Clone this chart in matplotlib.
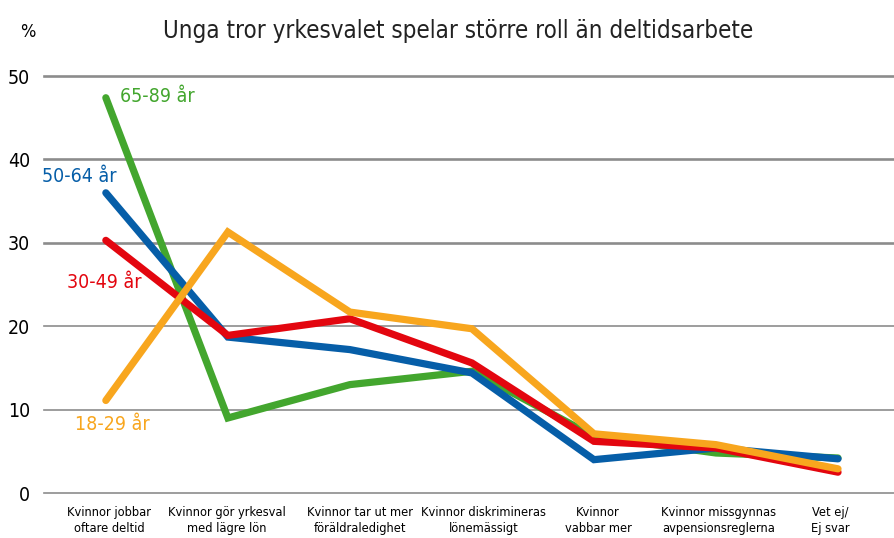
import numpy as np
import matplotlib.pyplot as plt
import matplotlib.transforms as mtransforms

plt.rcParams['font.family'] = ['DejaVu Sans']
plt.rcParams['font.stretch'] = 'condensed'

# kategorier
kategorier = [
    'Kvinnor jobbar\noftare deltid',
    'Kvinnor gör yrkesval\nmed lägre lön',
    'Kvinnor tar ut mer\nföräldraledighet',
    'Kvinnor diskrimineras\nlönemässigt',
    'Kvinnor\nvabbar mer',
    'Kvinnor missgynnas\navpensionsreglerna',
    'Vet ej/\nEj svar',
]

# andel (%) per åldersgrupp
ar_65_89 = [47.4, 9.0, 13.0, 14.6, 6.8, 4.8, 4.2]
ar_50_64 = [36.0, 18.7, 17.2, 14.4, 4.0, 5.4, 4.1]
ar_30_49 = [30.3, 18.9, 20.9, 15.6, 6.2, 5.4, 2.5]
ar_18_29 = [11.1, 31.3, 21.7, 19.7, 7.1, 5.8, 2.9]

y_ticks = [0, 10, 20, 30, 40, 50]

gron = '#43a62e'
bla = '#065ea8'
rod = '#e3060f'
orange = '#f8a61e'

fig = plt.figure(figsize=(8.95, 5.38), dpi=100)
ax = fig.add_axes([0.049, 0.0836, 0.951, 0.775])

x = np.arange(len(kategorier))
for y, c in [(ar_65_89, gron), (ar_50_64, bla), (ar_30_49, rod), (ar_18_29, orange)]:
    ax.plot(x, y, color=c, lw=5.2, solid_capstyle='round', solid_joinstyle='miter',
            clip_on=False, zorder=3)

# etiketter för serierna
ax.text(0.115, 47.6, '65-89 år', color=gron, fontsize=14, va='center')
ax.text(-0.52, 38.0, '50-64 år', color=bla, fontsize=14, va='center')
ax.text(-0.32, 25.3, '30-49 år', color=rod, fontsize=14, va='center')
ax.text(-0.25, 8.2, '18-29 år', color=orange, fontsize=14, va='center')

ax.set_xlim(-0.508, 6.467)
ax.set_ylim(0, 50)
ax.set_yticks(y_ticks)
ax.set_xticks(x)
ax.set_xticklabels(kategorier, fontsize=9.2, linespacing=1.35)
ax.tick_params(axis='both', length=0)
ax.tick_params(axis='y', labelsize=14, pad=10)
ax.tick_params(axis='x', pad=9)

# flytta x-etiketterna lite i sidled som i originalet
skift_px = [3, -1, 10, 12, 4, 3, -8]
for lab, dx in zip(ax.get_xticklabels(), skift_px):
    lab.set_transform(lab.get_transform() +
                      mtransforms.ScaledTranslation(dx / 100, 0, fig.dpi_scale_trans))

for s in ax.spines.values():
    s.set_visible(False)

# gridlines, de övre lite tjockare
for t in y_ticks:
    ax.axhline(t, color='#8c8c8c', lw=1.9 if t >= 30 else 1.2, zorder=0, clip_on=False)

fig.text(0.022, 0.94, '%', fontsize=13, ha='left', va='center')
fig.text(0.512, 0.943, 'Unga tror yrkesvalet spelar större roll än deltidsarbete',
         fontsize=17.3, ha='center', va='center', color='#222222')

fig.savefig('out.png', dpi=100)
